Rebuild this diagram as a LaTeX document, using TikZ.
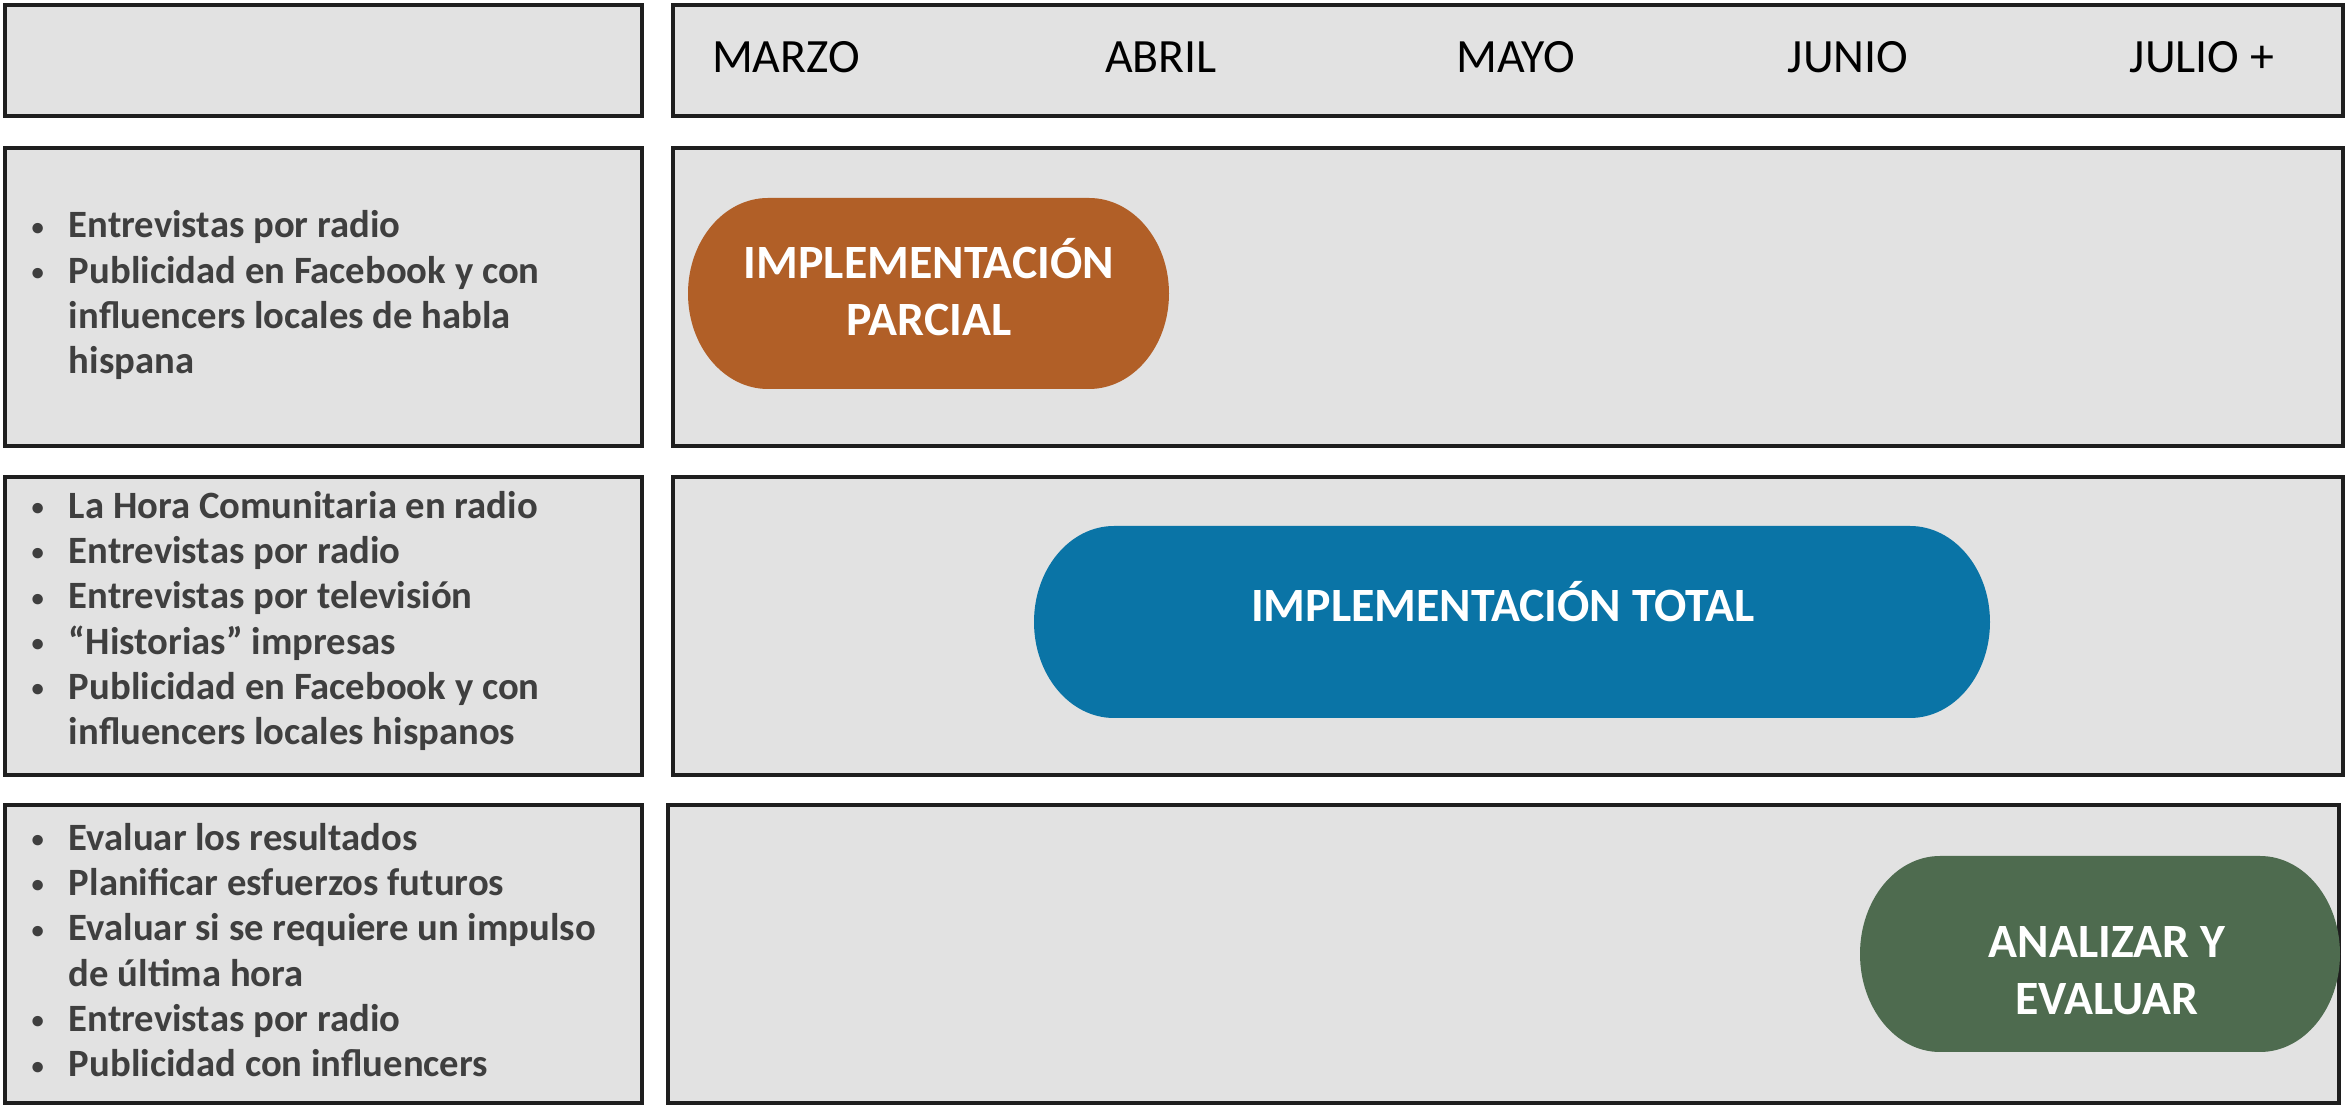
\documentclass[tikz,border=0pt]{standalone}
\usepackage{fontspec}
\setmainfont{Carlito}
\usetikzlibrary{positioning}
\definecolor{cellfill}{HTML}{E2E2E2}
\definecolor{cellline}{HTML}{1E1E1E}
\definecolor{itemgray}{HTML}{3F3F3F}
\definecolor{parcialc}{HTML}{B15F27}
\definecolor{totalc}{HTML}{0A74A6}
\definecolor{evalc}{HTML}{4E6B4F}
\newcommand{\itm}{\makebox[10.6pt][l]{\raisebox{0.8pt}{\fontsize{7}{7}\selectfont\textbullet}}}
\newcommand{\cnt}{\hspace*{10.6pt}}
% pill: x1, y1 (bottom), x2, y2 (top), colour
\newcommand{\pill}[5]{\fill[#5] (#1+80,#2) -- (#3-80,#2)
  arc[start angle=-90,end angle=90,x radius=80,y radius={(#4-#2)/2}]
  -- (#1+80,#4)
  arc[start angle=90,end angle=270,x radius=80,y radius={(#4-#2)/2}] -- cycle;}
\tikzset{cell/.style={draw=cellline,fill=cellfill,line width=1.1pt},
	 month/.style={font=\fontsize{13.6}{16}\selectfont,text=black,anchor=base,inner sep=0pt},
	 items/.style={font=\fontsize{11}{12.9}\selectfont\bfseries,text=itemgray,align=left,anchor=base west,inner sep=0pt},
	 pilltext/.style={font=\fontsize{13.6}{16.5}\selectfont\bfseries,text=white,align=center,anchor=base,inner sep=0pt}
	 }
\begin{document}
\begin{tikzpicture}[x=0.1mm,y=0.1mm] % plan de medios
	\useasboundingbox (0,0) rectangle (2346,1107);
	% cells
	\draw[cell] (5,991) rectangle (642,1102);
	\draw[cell] (673,991) rectangle (2343,1102);
	\draw[cell] (5,661) rectangle (642,959);
	\draw[cell] (673,661) rectangle (2343,959);
	\draw[cell] (5,332) rectangle (642,630);
	\draw[cell] (673,332) rectangle (2343,630);
	\draw[cell] (5,4) rectangle (642,302);
	\draw[cell] (668,4) rectangle (2339,302);
	% months
	\foreach \m/\x [count=\i] in {MARZO/786,ABRIL/1161,MAYO/1516,JUNIO/1848,JULIO +/2202}
		\node[month] (mes\i) at (\x,1034) {\m};
	% activities (base = last line)
	\node[items] (fase1) at (31,733) {\itm Entrevistas por radio\\
		\itm Publicidad en Facebook y con\\ \cnt influencers locales de habla\\ \cnt hispana};
	\node[items] (fase2) at (31,362) {\itm La Hora Comunitaria en radio\\
		\itm Entrevistas por radio\\ \itm Entrevistas por televisión\\
		\itm “Historias” impresas\\ \itm Publicidad en Facebook y con\\
		\cnt influencers locales hispanos};
	\node[items] (fase3) at (31,30) {\itm Evaluar los resultados\\
		\itm Planificar esfuerzos futuros\\ \itm Evaluar si se requiere un impulso\\
		\cnt de última hora\\ \itm Entrevistas por radio\\ \itm Publicidad con influencers};
	% phases
	\pill{688}{718}{1169}{909}{parcialc}
	\pill{1034}{389}{1990}{581}{totalc}
	\pill{1860}{55}{2340}{251}{evalc}
	\node[pilltext] (parcial) at (929,771) {IMPLEMENTACIÓN\\ PARCIAL};
	\node[pilltext] (total) at (1503,485) {IMPLEMENTACIÓN TOTAL};
	\node[pilltext] (evaluar) at (2107,92) {ANALIZAR Y\\ EVALUAR};
\end{tikzpicture}
\end{document}
